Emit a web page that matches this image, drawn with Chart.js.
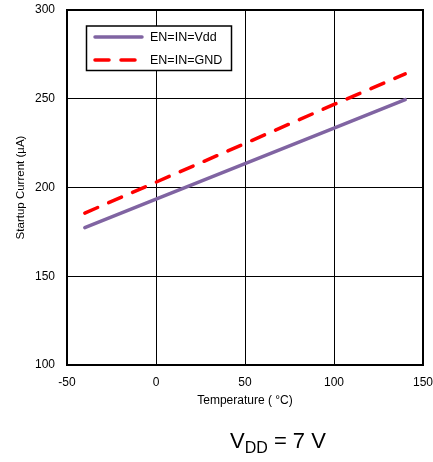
<!DOCTYPE html>
<html lang="en">
<head>
  <meta charset="UTF-8" />
  <title>Startup Current vs Temperature</title>
  <script src="https://cdn.jsdelivr.net/npm/chart.js"></script>
  <style>
    body { margin: 0; background: #fff; }
    .caixa { position: relative; width: 433px; height: 462px; }
    .vdd {
      position: absolute; left: 230px; top: 428px;
      font-family: "Liberation Sans", Arial, sans-serif; font-size: 22px; color: #000;
    }
    .vdd sub { font-size: 16px; vertical-align: -5px; }
  </style>
</head>
<body>
  <div class="caixa">
    <canvas id="grafico" width="433" height="462"></canvas>
    <div class="vdd">V<sub>DD</sub> = 7 V</div>
  </div>

<script>
  // temperatura (°C)
  var temperaturas = [-40, 0, 50, 100, 140];
  // corrente de startup (uA)
  var corrente_vdd = [177.4, 193.4, 213.4, 233.4, 249.5];
  var corrente_gnd = [185.6, 203.0, 224.8, 246.8, 264.0];
  var nomes_series = ["EN=IN=Vdd", "EN=IN=GND"];
  var ticks_x = [-50, 0, 50, 100, 150];
  var ticks_y = [100, 150, 200, 250, 300];

  var fonte = "'Liberation Sans', Arial, sans-serif";

  function pontos(valores) {
    return temperaturas.map(function (t, i) { return { x: t, y: valores[i] }; });
  }

  // moldura e legenda dentro da area do grafico
  var moldura = {
    id: "moldura",
    beforeDatasetsDraw: function (chart) {
      var a = chart.chartArea;
      var ctx = chart.ctx;
      ctx.save();
      ctx.strokeStyle = "#000";
      ctx.lineWidth = 2;
      ctx.strokeRect(a.left, a.top, a.right - a.left, a.bottom - a.top);
      ctx.restore();
    },
    afterDatasetsDraw: function (chart) {
      var ctx = chart.ctx;
      ctx.save();
      ctx.fillStyle = "#fff";
      ctx.fillRect(86.5, 26, 145, 44.5);
      ctx.strokeStyle = "#000";
      ctx.lineWidth = 1.5;
      ctx.strokeRect(86.5, 26, 145, 44.5);
      var linhasY = [37, 60];
      chart.data.datasets.forEach(function (ds, i) {
        ctx.beginPath();
        ctx.strokeStyle = ds.borderColor;
        ctx.lineWidth = ds.borderWidth;
        ctx.lineCap = "round";
        ctx.setLineDash(ds.borderDash || []);
        ctx.moveTo(95, linhasY[i]);
        ctx.lineTo(142, linhasY[i]);
        ctx.stroke();
        ctx.setLineDash([]);
        ctx.fillStyle = "#000";
        ctx.font = "12.5px " + fonte;
        ctx.textBaseline = "middle";
        ctx.fillText(ds.label, 150, linhasY[i] + 0.5);
      });
      ctx.restore();
    }
  };

  new Chart(document.getElementById("grafico"), {
    type: "line",
    data: {
      datasets: [
        {
          label: nomes_series[0],
          data: pontos(corrente_vdd),
          borderColor: "#8064A2",
          borderWidth: 3.5,
          borderCapStyle: "round",
          pointRadius: 0,
          fill: false,
        },
        {
          label: nomes_series[1],
          data: pontos(corrente_gnd),
          borderColor: "#FF0000",
          borderWidth: 3.5,
          borderDash: [14, 12],
          borderCapStyle: "round",
          pointRadius: 0,
          fill: false,
        },
      ],
    },
    options: {
      responsive: false,
      animation: false,
      layout: { autoPadding: false, padding: { left: 0, right: 10, top: 10, bottom: 54 } },
      plugins: {
        legend: { display: false },
        tooltip: { enabled: false },
      },
      scales: {
        x: {
          type: "linear",
          min: -50,
          max: 150,
          afterBuildTicks: function (eixo) { eixo.ticks = ticks_x.map(function (v) { return { value: v }; }); },
          afterFit: function (eixo) { eixo.height = 43; eixo.paddingLeft = 0; eixo.paddingRight = 0; },
          grid: { color: "#000", lineWidth: 1, drawTicks: false },
          border: { display: false },
          ticks: { padding: 10, color: "#000", font: { family: fonte, size: 12 }, maxRotation: 0 },
          title: {
            display: true,
            text: "Temperature ( °C)",
            color: "#000",
            font: { family: fonte, size: 12 },
            padding: { top: 6, bottom: 0 },
          },
        },
        y: {
          min: 100,
          max: 300,
          afterBuildTicks: function (eixo) { eixo.ticks = ticks_y.map(function (v) { return { value: v }; }); },
          afterFit: function (eixo) { eixo.width = 67; eixo.paddingTop = 0; eixo.paddingBottom = 0; },
          grid: { color: "#000", lineWidth: 1, drawTicks: false },
          border: { display: false },
          ticks: { padding: 12, color: "#000", font: { family: fonte, size: 12 } },
          title: {
            display: true,
            text: "Startup Current (µA)",
            color: "#000",
            font: { family: fonte, size: 11.5 },
            padding: { top: 14, bottom: 0 },
          },
        },
      },
    },
    plugins: [moldura],
  });
</script>
</body>
</html>
